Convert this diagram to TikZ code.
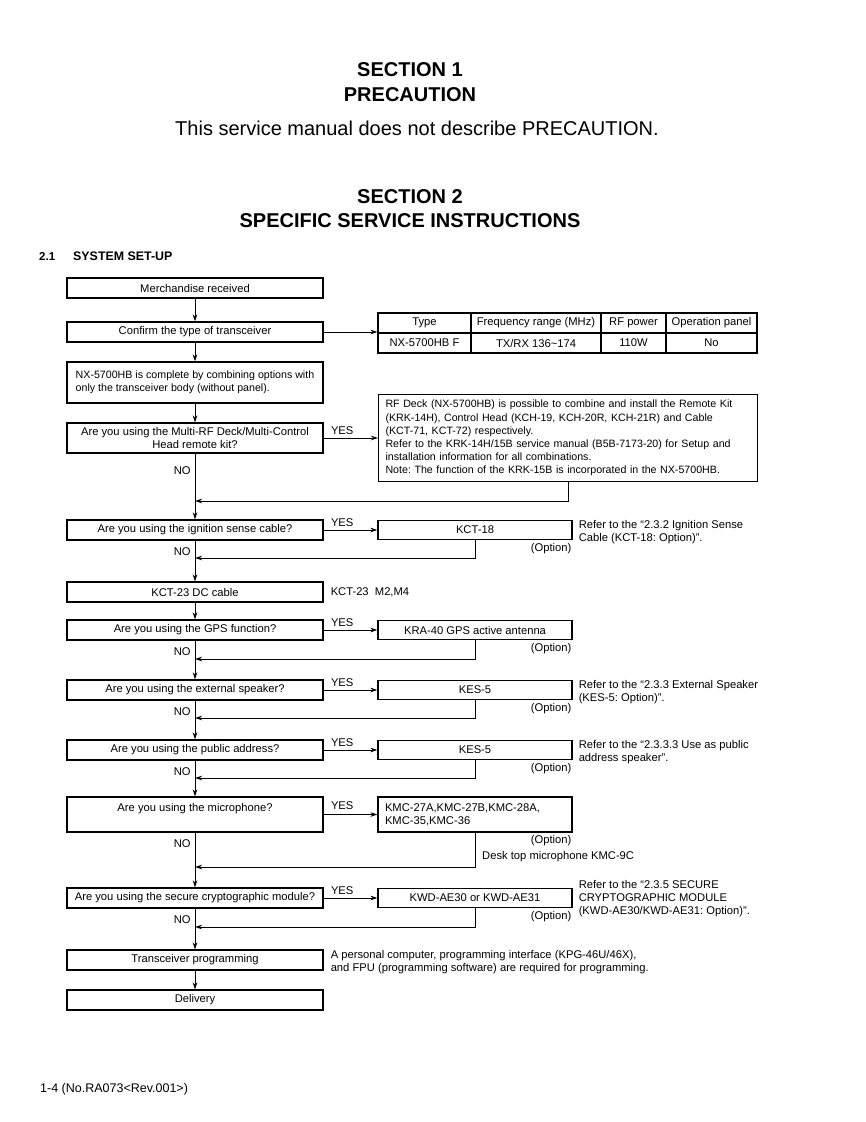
\documentclass[tikz,border=0pt]{standalone}
\usepackage{fontspec}
\setmainfont{Liberation Sans}
\usetikzlibrary{arrows.meta, positioning, calc}
\frenchspacing
\newcommand{\flowfont}{\fontsize{11.2}{13.4}\selectfont}
\newcommand{\notefont}{\fontsize{10.65}{13.2}\selectfont}
\tikzset{
  flowBox/.style = {rectangle, draw, line width=1.1pt, minimum width=256pt,
    minimum height=20pt, inner sep=0pt, align=center, font=\flowfont},
  optBox/.style = {rectangle, draw, line width=1.1pt, minimum width=194pt,
    minimum height=19.5pt, inner sep=0pt, align=center, font=\flowfont},
  cellBox/.style = {rectangle, draw, line width=1.1pt, minimum height=20pt,
    inner sep=0pt, font=\flowfont},
  noteBox/.style = {rectangle, draw, line width=1.1pt, anchor=north west,
    align=left, inner xsep=7pt, inner ysep=0pt, font=\notefont},
  sideNote/.style = {anchor=north west, align=left, inner sep=0pt, font=\flowfont},
  ok/.style = {-{Stealth[length=7pt, width=4.5pt]}, line width=0.9pt},
  yesLbl/.style = {anchor=south west, inner sep=0pt, font=\flowfont,
    xshift=7pt, yshift=3pt},
  noLbl/.style = {anchor=north east, inner sep=0pt, font=\flowfont,
    xshift=-4pt, yshift=-7pt},
  optLbl/.style = {anchor=north east, inner sep=0pt, font=\flowfont,
    xshift=-1pt, yshift=-3pt},
  heading/.style = {inner sep=0pt, font=\fontsize{20}{24}\selectfont\bfseries},
}

\begin{document}
\begin{tikzpicture}[x=1pt, y=-1pt]
\useasboundingbox (0,0) rectangle (866,1122);

% headings
\node[heading] (s1) at (410,70) {SECTION 1};
\node[heading] (s1t) at (410,95) {PRECAUTION};
\node[inner sep=0pt, font=\fontsize{20}{24}\selectfont] (s1x) at (417,128)
  {This service manual does not describe PRECAUTION.};
\node[heading] (s2) at (410,197) {SECTION 2};
\node[heading] (s2t) at (410,221) {SPECIFIC SERVICE INSTRUCTIONS};
\node[anchor=base west, inner sep=0pt, font=\fontsize{11.5}{13}\selectfont\bfseries]
  (s21n) at (39,260.5) {2.1};
\node[anchor=base west, inner sep=0pt, font=\fontsize{12.4}{14}\selectfont\bfseries]
  (s21) at (73,260.5) {SYSTEM SET-UP};

% main column
\node[flowBox] (mr) at (195,288) {Merchandise received};
\node[flowBox] (ct) at (195,332) {Confirm the type of transceiver};
\node[flowBox, minimum height=41pt, align=left, font=\notefont]
  (nx) at (195,382.5) {NX-5700HB is complete by combining options with\\only the transceiver body (without panel).};
\node[flowBox, minimum height=30pt] (rf) at (195,438)
  {Are you using the Multi-RF Deck/Multi-Control\\Head remote kit?};
\node[flowBox] (ig) at (195,530) {Are you using the ignition sense cable?};
\node[flowBox] (dc) at (195,592) {KCT-23 DC cable};
\node[flowBox] (gps) at (195,630) {Are you using the GPS function?};
\node[flowBox] (spk) at (195,690) {Are you using the external speaker?};
\node[flowBox] (pa) at (195,750) {Are you using the public address?};
\node[flowBox, minimum height=35pt] (mic) at (195,814.5)
  {Are you using the microphone?\\\mbox{}};
\node[flowBox] (sec) at (195,898) {Are you using the secure cryptographic module?};
\node[flowBox] (tp) at (195,960) {Transceiver programming};
\node[flowBox] (dl) at (195,1000) {Delivery};

% type table
\node[cellBox, minimum width=93pt] (th1) at (424.5,323) {Type};
\node[cellBox, minimum width=130pt] (th2) at (536,323) {Frequency range (MHz)};
\node[cellBox, minimum width=65pt] (th3) at (633.5,323) {RF power};
\node[cellBox, minimum width=91pt] (th4) at (711.5,323) {Operation panel};
\node[cellBox, minimum width=93pt] (td1) at (424.5,343) {NX-5700HB F};
\node[cellBox, minimum width=130pt] (td2) at (536,343) {TX/RX 136\textasciitilde174};
\node[cellBox, minimum width=65pt] (td3) at (633.5,343) {110W};
\node[cellBox, minimum width=91pt] (td4) at (711.5,343) {No};

% options
\node[noteBox, text width=365pt, minimum height=87pt] (rfnote) at (378,394)
  {RF Deck (NX-5700HB) is possible to combine and install the Remote Kit\\
   (KRK-14H), Control Head (KCH-19, KCH-20R, KCH-21R) and Cable\\
   (KCT-71, KCT-72) respectively.\\
   Refer to the KRK-14H/15B service manual (B5B-7173-20) for Setup and\\
   installation information for all combinations.\\
   Note: The function of the KRK-15B is incorporated in the NX-5700HB.};
\node[optBox] (kct18) at (475,530) {KCT-18};
\node[optBox] (kra) at (475,630) {KRA-40 GPS active antenna};
\node[optBox] (kes1) at (475,690) {KES-5};
\node[optBox] (kes2) at (475,750) {KES-5};
\node[optBox, minimum height=35pt, align=left, text width=180pt, inner xsep=7pt]
  (kmc) at (475,814.5) {KMC-27A,KMC-27B,KMC-28A,\\KMC-35,KMC-36};
\node[optBox] (kwd) at (475,898) {KWD-AE30 or KWD-AE31};

\node[optLbl] (o1) at (kct18.south east) {(Option)};
\node[optLbl] (o2) at (kra.south east) {(Option)};
\node[optLbl] (o3) at (kes1.south east) {(Option)};
\node[optLbl] (o4) at (kes2.south east) {(Option)};
\node[optLbl] (o5) at (kmc.south east) {(Option)};
\node[optLbl] (o6) at (kwd.south east) {(Option)};

% side notes
\node[sideNote, xshift=6pt] (n1) at (kct18.north east)
  {Refer to the “2.3.2 Ignition Sense\\Cable (KCT-18: Option)”.};
\node[sideNote, anchor=west, xshift=7pt] (n2) at (dc.east) {KCT-23\ \ M2,M4};
\node[sideNote, xshift=6pt] (n3) at (kes1.north east)
  {Refer to the “2.3.3 External Speaker\\(KES-5: Option)”.};
\node[sideNote, xshift=6pt] (n4) at (kes2.north east)
  {Refer to the “2.3.3.3 Use as public\\address speaker”.};
\node[sideNote, anchor=west] (n5) at (482,857) {Desk top microphone KMC-9C};
\node[sideNote, xshift=6pt, yshift=8pt] (n6) at (kwd.north east)
  {Refer to the “2.3.5 SECURE\\CRYPTOGRAPHIC MODULE\\(KWD-AE30/KWD-AE31: Option)”.};
\node[sideNote, anchor=west, xshift=7pt, yshift=-2pt] (n7) at (tp.east)
  {A personal computer, programming interface (KPG-46U/46X),\\and FPU (programming software) are required for programming.};

\node[anchor=west, inner sep=0pt, font=\fontsize{12.5}{14}\selectfont] (foot)
  at (40,1089) {1-4 (No.RA073<Rev.001>)};

% join points on the main line
\coordinate (j1) at (195,501);
\coordinate (j2) at (195,558);
\coordinate (j3) at (195,659);
\coordinate (j4) at (195,718);
\coordinate (j5) at (195,778);
\coordinate (j6) at (195,867);
\coordinate (j7) at (195,927);

% connectors
\draw[ok] (mr) -- (ct);
\draw[ok] (ct) -- (nx);
\draw[ok] (ct.east) -- (ct.east -| th1.west);
\draw[ok] (nx) -- (rf);
\draw[ok] (rf.east) -- node[yesLbl, pos=0]{YES} (rf.east -| rfnote.west);
\draw[ok] (rf.south) -- node[noLbl, pos=0, yshift=-6pt]{NO} (ig.north);
\draw[ok] ($(rfnote.south west)+(190,0)$) |- (j1);

\draw[ok] (ig) -- node[yesLbl, pos=0]{YES} (kct18);
\draw[ok] (ig.south) -- node[noLbl, pos=0]{NO} (dc.north);
\draw[ok] (kct18.south) |- (j2);

\draw[ok] (dc) -- (gps);
\draw[ok] (gps) -- node[yesLbl, pos=0]{YES} (kra);
\draw[ok] (gps.south) -- node[noLbl, pos=0]{NO} (spk.north);
\draw[ok] (kra.south) |- (j3);

\draw[ok] (spk) -- node[yesLbl, pos=0]{YES} (kes1);
\draw[ok] (spk.south) -- node[noLbl, pos=0]{NO} (pa.north);
\draw[ok] (kes1.south) |- (j4);

\draw[ok] (pa) -- node[yesLbl, pos=0]{YES} (kes2);
\draw[ok] (pa.south) -- node[noLbl, pos=0]{NO} (mic.north);
\draw[ok] (kes2.south) |- (j5);

\draw[ok] (mic) -- node[yesLbl, pos=0, yshift=1pt]{YES} (kmc);
\draw[ok] (mic.south) -- node[noLbl, pos=0]{NO} (sec.north);
\draw[ok] (kmc.south) |- (j6);

\draw[ok] (sec) -- node[yesLbl, pos=0]{YES} (kwd);
\draw[ok] (sec.south) -- node[noLbl, pos=0]{NO} (tp.north);
\draw[ok] (kwd.south) |- (j7);

\draw[ok] (tp) -- (dl);
\end{tikzpicture}
\end{document}
